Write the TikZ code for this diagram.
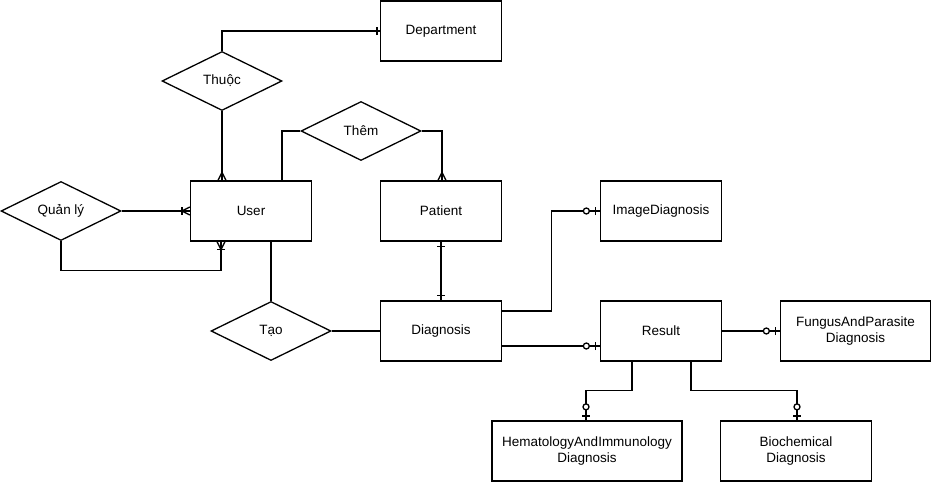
\documentclass[tikz,border=0pt]{standalone}
\usepackage{fontspec}
\setmainfont{Liberation Sans}
\usetikzlibrary{shapes.geometric,decorations.markings}

\begin{document}
\begin{tikzpicture}[x=1pt,y=-1pt,line width=1.3pt,
    every node/.style={font=\fontsize{13.5}{15.5}\selectfont},
    entity/.style={draw,rectangle,align=center,minimum width=121pt,minimum height=60pt},
    relation/.style={draw,diamond,aspect=2,inner sep=0pt,minimum width=120pt,minimum height=59pt},
    one/.style={postaction={decorate,decoration={markings,
        mark=at position #1 with {\draw (0,-4pt) -- (0,4pt);}}}},
    one/.default=-3pt,
    many/.style={postaction={decorate,decoration={markings,
        mark=at position -0.01pt with {\draw (-8pt,0) -- (0,4pt) (-8pt,0) -- (0,-4pt);}}}},
    onemany/.style={many,one=-8pt},
    zeroone/.style={one=-4.5pt,postaction={decorate,decoration={markings,
        mark=at position -13.5pt with {\draw[fill=white] (0,0) circle (3pt);}}}}]
\useasboundingbox (0,0) rectangle (932,482);

% entities
\node (dept) [entity] at (441,31) {Department};
\node (user) [entity] at (251,211) {User};
\node (patient) [entity] at (441,211) {Patient};
\node (diag) [entity] at (441,331) {Diagnosis};
\node (imgdiag) [entity] at (661,211) {ImageDiagnosis};
\node (result) [entity] at (661,331) {Result};
\node (fungus) [entity,minimum width=150pt] at (855.5,331) {FungusAndParasite\\Diagnosis};
\node (hema) [entity,minimum width=190pt] at (587,451) {HematologyAndImmunology\\Diagnosis};
\node (bio) [entity,minimum width=151pt] at (796,451) {Biochemical\\Diagnosis};

% relations
\node (thuoc) [relation] at (222,81) {Thuộc};
\node (quanly) [relation] at (61,211) {Quản lý};
\node (them) [relation] at (361,131) {Thêm};
\node (tao) [relation] at (271,331) {Tạo};

\draw [one] (thuoc.north) |- (dept.west);
\draw [many] (thuoc.south) -- (thuoc.south |- user.north);
\draw [onemany] (quanly.east) -- (user.west);
\draw [onemany] (quanly.south) -- ++(0,29) -| ([xshift=-30pt]user.south);
\draw (them.west) -| ([xshift=31pt]user.north);
\draw [many] (them.east) -| ([xshift=1pt]patient.north);
\draw [one=5pt,one=-5pt] (patient.south) -- (diag.north);
\draw (tao.north |- user.south) -- (tao.north);
\draw (tao.east) -- (diag.west);
\draw [zeroone] ([yshift=20pt]diag.east) -- ++(49,0) |- (imgdiag.west);
\draw [zeroone] ([yshift=-15pt]diag.east) -- ([yshift=-15pt]result.west);
\draw [zeroone] (result.east) -- (fungus.west);
\draw [zeroone] ([xshift=-29pt]result.south) -- ++(0,29) -| ([xshift=-1pt]hema.north);
\draw [zeroone] ([xshift=30pt]result.south) -- ++(0,29) -| ([xshift=1pt]bio.north);
\end{tikzpicture}
\end{document}
